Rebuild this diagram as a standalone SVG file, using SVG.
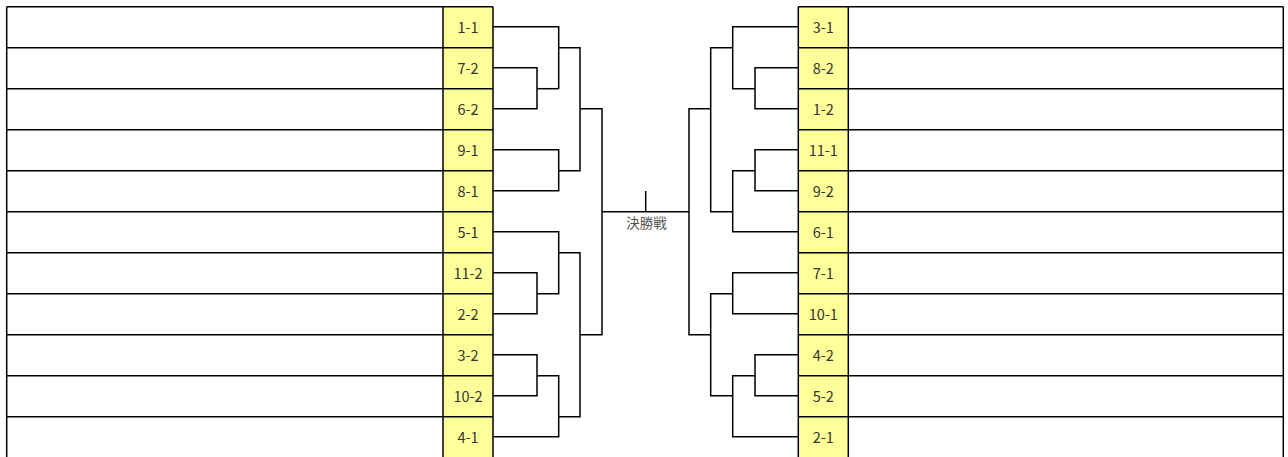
<svg xmlns="http://www.w3.org/2000/svg" width="1288" height="457" viewBox="0 0 1288 457">
<style>
.ln{stroke:#000;stroke-width:1.5;fill:none}
.cell{fill:#ffff99}
.lbl{font-family:"Noto Sans CJK JP","Noto Sans",sans-serif;font-size:14.5px;fill:#333;text-anchor:middle;dominant-baseline:central}
.fin{font-family:"Noto Sans CJK JP","Noto Sans",sans-serif;font-size:13.5px;fill:#555;text-anchor:middle;dominant-baseline:central}
</style>
<rect width="1288" height="457" fill="#fff"/>
<g id="left-table">
<rect class="cell" x="443" y="6.7" width="50" height="451"/>
<path class="ln" d="M6.7 6.7H493M6.7 47.7H493M6.7 88.7H493M6.7 129.7H493M6.7 170.7H493M6.7 211.7H493M6.7 252.7H493M6.7 293.7H493M6.7 334.7H493M6.7 375.7H493M6.7 416.7H493M6.7 6.7V458M443 6.7V458M493 6.7V458"/>
</g>
<g id="right-table">
<rect class="cell" x="798.3" y="6.7" width="50" height="451"/>
<path class="ln" d="M798.3 6.7H1283.3M798.3 47.7H1283.3M798.3 88.7H1283.3M798.3 129.7H1283.3M798.3 170.7H1283.3M798.3 211.7H1283.3M798.3 252.7H1283.3M798.3 293.7H1283.3M798.3 334.7H1283.3M798.3 375.7H1283.3M798.3 416.7H1283.3M798.3 6.7V458M848.3 6.7V458M1283.3 6.7V458"/>
</g>
<g id="n-L1"><text class="lbl" x="468" y="26.7">1-1</text></g>
<g id="n-L2"><text class="lbl" x="468" y="67.7">7-2</text></g>
<g id="n-L3"><text class="lbl" x="468" y="108.7">6-2</text></g>
<g id="n-L4"><text class="lbl" x="468" y="149.7">9-1</text></g>
<g id="n-L5"><text class="lbl" x="468" y="190.7">8-1</text></g>
<g id="n-L6"><text class="lbl" x="468" y="231.7">5-1</text></g>
<g id="n-L7"><text class="lbl" x="468" y="272.7">11-2</text></g>
<g id="n-L8"><text class="lbl" x="468" y="313.7">2-2</text></g>
<g id="n-L9"><text class="lbl" x="468" y="354.7">3-2</text></g>
<g id="n-L10"><text class="lbl" x="468" y="395.7">10-2</text></g>
<g id="n-L11"><text class="lbl" x="468" y="436.7">4-1</text></g>
<g id="n-R1"><text class="lbl" x="823.3" y="26.7">3-1</text></g>
<g id="n-R2"><text class="lbl" x="823.3" y="67.7">8-2</text></g>
<g id="n-R3"><text class="lbl" x="823.3" y="108.7">1-2</text></g>
<g id="n-R4"><text class="lbl" x="823.3" y="149.7">11-1</text></g>
<g id="n-R5"><text class="lbl" x="823.3" y="190.7">9-2</text></g>
<g id="n-R6"><text class="lbl" x="823.3" y="231.7">6-1</text></g>
<g id="n-R7"><text class="lbl" x="823.3" y="272.7">7-1</text></g>
<g id="n-R8"><text class="lbl" x="823.3" y="313.7">10-1</text></g>
<g id="n-R9"><text class="lbl" x="823.3" y="354.7">4-2</text></g>
<g id="n-R10"><text class="lbl" x="823.3" y="395.7">5-2</text></g>
<g id="n-R11"><text class="lbl" x="823.3" y="436.7">2-1</text></g>
<g id="final"><text class="fin" x="646.5" y="221.7">決勝戦</text></g>
<g id="connectors">
<path class="ln" d="M493 26.7H558.7V88.7"/>
<path class="ln" d="M493 67.7H537V108.7H493"/>
<path class="ln" d="M537 88.7H558.7"/>
<path class="ln" d="M558.7 47.7H580V170.7H558.7"/>
<path class="ln" d="M493 149.7H558.7V190.7H493"/>
<path class="ln" d="M580 108.7H602V334.7H580"/>
<path class="ln" d="M602 211.7H689"/>
<path class="ln" d="M645.7 191V211.7"/>
<path class="ln" d="M493 231.7H558.7V293.7H537"/>
<path class="ln" d="M493 272.7H537V313.7H493"/>
<path class="ln" d="M558.7 252.7H580V416.7H558.7"/>
<path class="ln" d="M493 354.7H537V395.7H493"/>
<path class="ln" d="M537 375.7H558.7V436.7H493"/>
<path class="ln" d="M798.3 26.7H732.7V88.7H755"/>
<path class="ln" d="M798.3 67.7H755V108.7H798.3"/>
<path class="ln" d="M732.7 47.7H710.7V211.7H732.7"/>
<path class="ln" d="M798.3 149.7H755V190.7H798.3"/>
<path class="ln" d="M755 170.7H732.7V231.7H798.3"/>
<path class="ln" d="M710.7 108.7H689V334.7H710.7"/>
<path class="ln" d="M798.3 272.7H732.7V313.7H798.3"/>
<path class="ln" d="M732.7 293.7H710.7V395.7H732.7"/>
<path class="ln" d="M798.3 354.7H755V395.7H798.3"/>
<path class="ln" d="M755 375.7H732.7V436.7H798.3"/>
</g>
</svg>
